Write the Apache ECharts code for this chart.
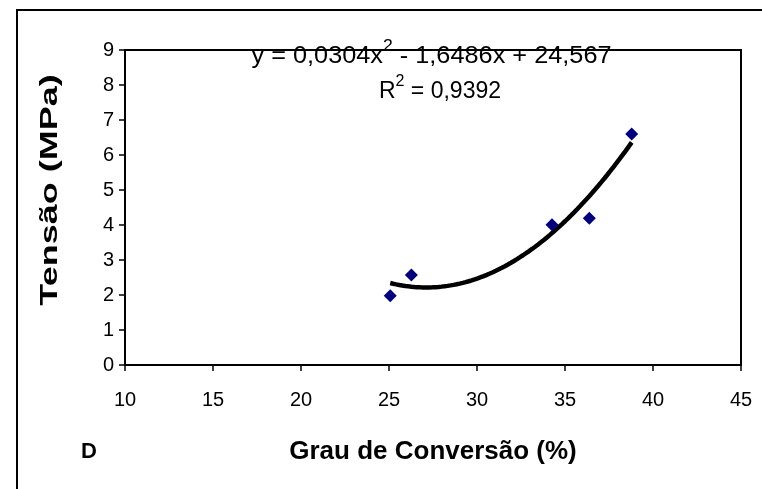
<!DOCTYPE html>
<html>
<head>
<meta charset="utf-8">
<script src="https://cdn.jsdelivr.net/npm/echarts@6/dist/echarts.min.js"></script>
<style>
  html, body { margin: 0; padding: 0; background: #fff; }
  #chart { width: 762px; height: 489px; }
</style>
</head>
<body>
<div id="chart"></div>
<script>
// Measured samples: degree of conversion (%) vs. stress (MPa)
const conversion = [25.07, 26.27, 34.26, 36.38, 38.79];
const stress = [1.98, 2.57, 4.01, 4.19, 6.6];

// Second-order polynomial trendline: y = a x^2 + b x + c
const trendCoef = [0.0304, -1.6486, 24.567];
const rSquared = 0.9392;

// Axis ranges
const xRange = [10, 45, 5];
const yRange = [0, 9, 1];

const FONT = '"Liberation Sans", Arial, sans-serif';

// Trendline sampled across the span of the measurements
const trendPoints = [];
(function () {
  const lo = Math.min.apply(null, conversion);
  const hi = Math.max.apply(null, conversion);
  const steps = 80;
  for (let i = 0; i <= steps; i++) {
    const x = lo + (hi - lo) * i / steps;
    const y = trendCoef[0] * x * x + trendCoef[1] * x + trendCoef[2];
    trendPoints.push([x, y]);
  }
})();

const comma = v => String(Math.abs(v)).replace('.', ',');
const sign = v => (v < 0 ? '-' : '+');
const eqLine = '{n|y = ' + comma(trendCoef[0]) + 'x}{s|2}{n| ' + sign(trendCoef[1]) + ' ' +
  comma(trendCoef[1]) + 'x ' + sign(trendCoef[2]) + ' ' + comma(trendCoef[2]) + '}';
const r2Line = '{n|R}{s|2}{n| = ' + comma(rSquared) + '}';

// superscripts sit at the top of a tall line box
const eqRich = {
  n: { fontFamily: FONT, fontSize: 23, color: '#000', lineHeight: 36 },
  s: { fontFamily: FONT, fontSize: 16, color: '#000', lineHeight: 16, verticalAlign: 'top' }
};

const chart = echarts.init(document.getElementById('chart'), null, { renderer: 'canvas' });

chart.setOption({
  animation: false,
  backgroundColor: '#fff',
  grid: {
    left: 125, top: 50, width: 616, height: 315,
    show: true, borderColor: '#000', borderWidth: 2, z: 5
  },
  xAxis: {
    type: 'value',
    min: xRange[0], max: xRange[1], interval: xRange[2],
    z: 5,
    axisLine: { show: true, onZero: false, lineStyle: { color: '#000', width: 2 } },
    axisTick: { show: true, inside: false, length: 6, lineStyle: { color: '#000', width: 1.5 } },
    axisLabel: { color: '#000', fontSize: 20, fontFamily: FONT, margin: 25 },
    splitLine: { show: false }
  },
  yAxis: {
    type: 'value',
    min: yRange[0], max: yRange[1], interval: yRange[2],
    z: 5,
    axisLine: { show: true, onZero: false, lineStyle: { color: '#000', width: 2 } },
    axisTick: { show: true, inside: false, length: 6, lineStyle: { color: '#000', width: 1.5 } },
    axisLabel: { color: '#000', fontSize: 20, fontFamily: FONT, margin: 11 },
    splitLine: { show: false }
  },
  series: [
    {
      type: 'line',
      data: trendPoints,
      showSymbol: false,
      symbol: 'none',
      smooth: false,
      lineStyle: { color: '#000', width: 4.5 },
      z: 2
    },
    {
      type: 'scatter',
      data: conversion.map((x, i) => [x, stress[i]]),
      symbol: 'diamond',
      symbolSize: [13, 13],
      itemStyle: { color: '#000080', opacity: 1 },
      z: 3
    }
  ],
  graphic: {
    elements: [
      // outer frame (top and left edges)
      {
        type: 'polyline', z: 1,
        shape: { points: [[17, 489], [17, 10], [762, 10]] },
        style: { stroke: '#000', lineWidth: 2, fill: null }
      },
      // trendline equation and coefficient of determination
      {
        type: 'text', z: -1, x: 431.5, y: 57, scaleX: 1.1,
        style: { text: eqLine, rich: eqRich, align: 'center', verticalAlign: 'middle' }
      },
      {
        type: 'text', z: -1, x: 440, y: 92,
        style: { text: r2Line, rich: eqRich, align: 'center', verticalAlign: 'middle' }
      },
      // axis titles
      {
        type: 'text', z: 1, x: 433, y: 452,
        style: { text: 'Grau de Conversão (%)', font: 'bold 26px ' + FONT, fill: '#000', align: 'center', verticalAlign: 'middle' }
      },
      {
        type: 'text', z: 1, x: 50, y: 190, rotation: Math.PI / 2, scaleX: 1.5,
        style: { text: 'Tensão (MPa)', font: 'bold 24px ' + FONT, fill: '#000', align: 'center', verticalAlign: 'middle' }
      },
      // panel letter
      {
        type: 'text', z: 1, x: 89, y: 452,
        style: { text: 'D', font: 'bold 22px ' + FONT, fill: '#000', align: 'center', verticalAlign: 'middle' }
      }
    ]
  }
});
</script>
</body>
</html>
